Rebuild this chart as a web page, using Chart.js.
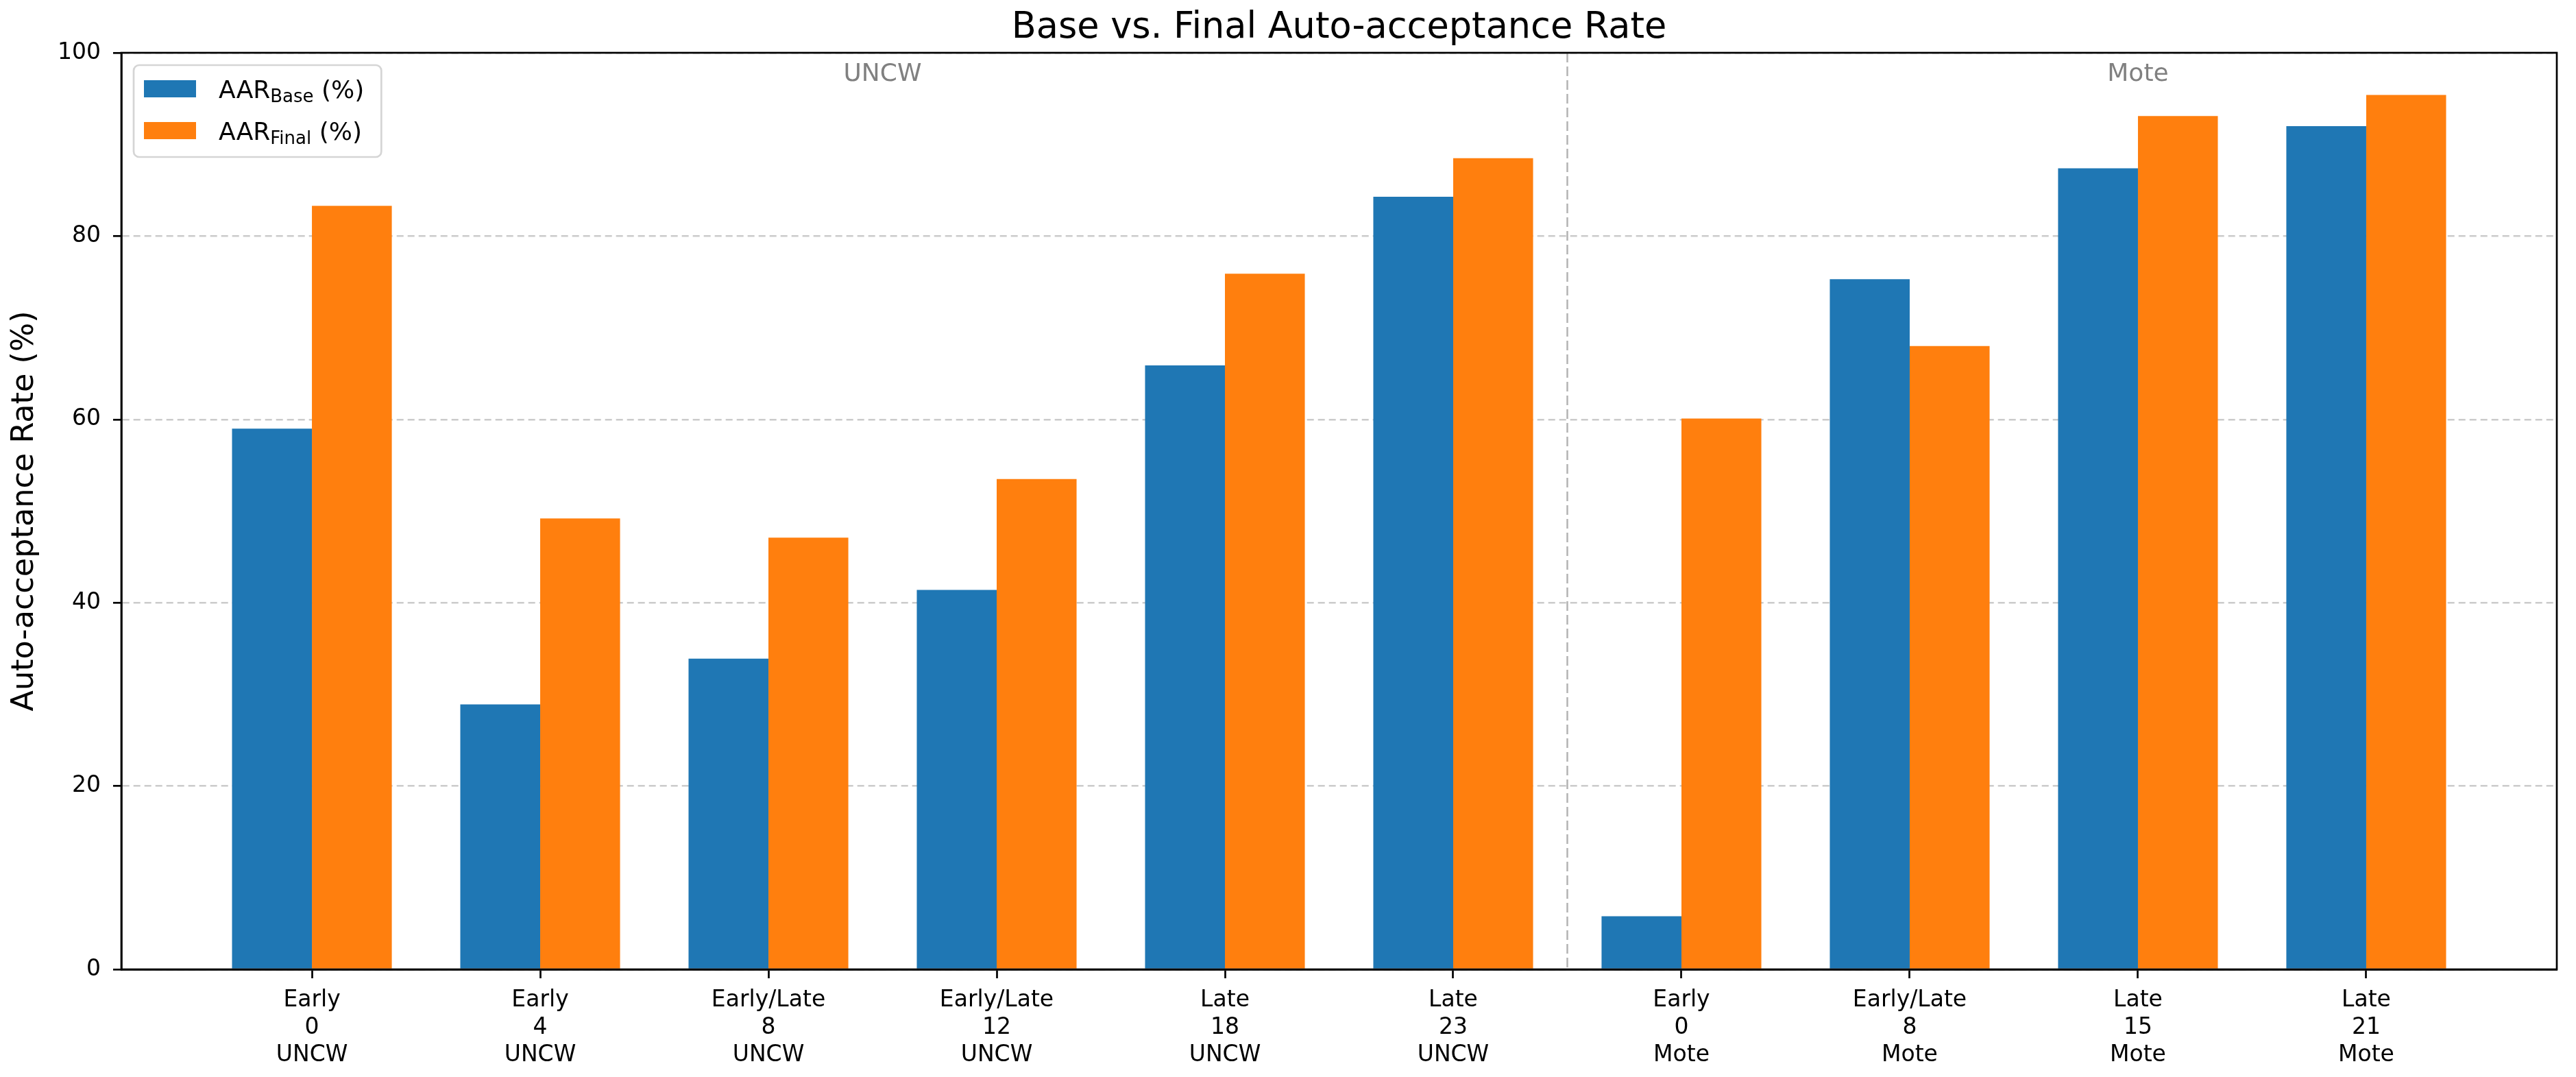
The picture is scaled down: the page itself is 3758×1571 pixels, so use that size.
<!DOCTYPE html>
<html>
<head>
<meta charset="utf-8">
<title>Base vs. Final Auto-acceptance Rate</title>
<script src="https://cdn.jsdelivr.net/npm/chart.js@4.4.1/dist/chart.umd.min.js"></script>
<style>
  html, body { margin: 0; padding: 0; background: #fff; }
  #wrap { width: 3758px; height: 1571px; }
</style>
</head>
<body>
<div id="wrap"><canvas id="aar-chart" width="3758" height="1571"></canvas></div>
<script>
// Data

const phases = ["Early", "Early", "Early/Late", "Early/Late", "Late", "Late", "Early", "Early/Late", "Late", "Late"];
const hours = ["0", "4", "8", "12", "18", "23", "0", "8", "15", "21"];
const sites = ["UNCW", "UNCW", "UNCW", "UNCW", "UNCW", "UNCW", "Mote", "Mote", "Mote", "Mote"];

const aarBase = [59.0, 28.9, 33.9, 41.4, 65.9, 84.3, 5.8, 75.3, 87.4, 92.0];
const aarFinal = [83.3, 49.2, 47.1, 53.5, 75.9, 88.5, 60.1, 68.0, 93.1, 95.4];

const yTicks = [0, 20, 40, 60, 80, 100];
const legendSubs = ["Base", "Final"];
const groupNames = ["UNCW", "Mote"];
const groupCenters = [2.5, 8]; // x value where the group name sits
const groupSplit = 5.5;

const FONT = "'DejaVu Sans'";
const BLUE = "#1f77b4";
const ORANGE = "#ff7f0e";

Chart.defaults.font.family = FONT;
Chart.defaults.color = "#000";

// title, frame, divider, group names and legend drawn over the plot
const overlay = {
  id: "overlay",
  afterDatasetsDraw(chart) {
    const { ctx, chartArea: a, scales } = chart;
    const xs = scales.x;
    ctx.save();
    // divider between the two sites
    const xd = xs.getPixelForValue(groupSplit);
    ctx.strokeStyle = "#b3b3b3";
    ctx.lineWidth = 2.5;
    ctx.setLineDash([14, 6]);
    ctx.beginPath();
    ctx.moveTo(xd, a.top);
    ctx.lineTo(xd, a.bottom);
    ctx.stroke();
    ctx.setLineDash([]);

    // site names
    ctx.fillStyle = "#808080";
    ctx.font = "36px " + FONT;
    ctx.textAlign = "center";
    ctx.textBaseline = "alphabetic";
    groupNames.forEach((name, i) => {
      ctx.fillText(name, xs.getPixelForValue(groupCenters[i]), a.top + 41);
    });
    ctx.restore();
  },
  afterDraw(chart) {
    const { ctx, chartArea: a } = chart;
    ctx.save();
    // frame on all four sides
    ctx.strokeStyle = "#000";
    ctx.lineWidth = 2.7;
    ctx.strokeRect(a.left, a.top, a.right - a.left, a.bottom - a.top);

    // title
    ctx.fillStyle = "#000";
    ctx.font = "52.5px " + FONT;
    ctx.textAlign = "center";
    ctx.textBaseline = "alphabetic";
    ctx.fillText("Base vs. Final Auto-acceptance Rate", (a.left + a.right) / 2, 55);

    // legend
    const big = "36px " + FONT;
    const small = "26px " + FONT;
    const colors = [BLUE, ORANGE];
    ctx.textAlign = "left";
    let textW = 0;
    legendSubs.forEach((sub) => {
      ctx.font = big;
      let w = ctx.measureText("AAR").width + ctx.measureText(" (%)").width;
      ctx.font = small;
      w += ctx.measureText(sub).width;
      textW = Math.max(textW, w);
    });
    const lx = a.left + 18;
    const ly = a.top + 18;
    const lw = 15 + 76 + 33 + textW + 25;
    const lh = 134;
    ctx.beginPath();
    ctx.roundRect(lx, ly, lw, lh, 8);
    ctx.fillStyle = "rgba(255,255,255,0.8)";
    ctx.fill();
    ctx.strokeStyle = "#d5d5d5";
    ctx.lineWidth = 2.7;
    ctx.stroke();

    legendSubs.forEach((sub, i) => {
      const rowTop = ly + 22 + i * 61;
      ctx.fillStyle = colors[i];
      ctx.fillRect(lx + 15, rowTop, 76, 25);
      const base = rowTop + 26;
      let tx = lx + 15 + 76 + 33;
      ctx.fillStyle = "#000";
      ctx.font = big;
      ctx.fillText("AAR", tx, base);
      tx += ctx.measureText("AAR").width;
      ctx.font = small;
      ctx.fillText(sub, tx, base + 6);
      tx += ctx.measureText(sub).width;
      ctx.font = big;
      ctx.fillText(" (%)", tx, base);
    });
    ctx.restore();
  },
};

const canvas = document.getElementById("aar-chart");

new Chart(canvas.getContext("2d"), {
  type: "bar",
  data: {
    datasets: [
      {
        label: "AAR Base (%)",
        data: aarBase.map((v, i) => ({ x: i, y: v })),
        backgroundColor: BLUE,
        borderWidth: 0,
      },
      {
        label: "AAR Final (%)",
        data: aarFinal.map((v, i) => ({ x: i, y: v })),
        backgroundColor: ORANGE,
        borderWidth: 0,
      },
    ],
  },
  options: {
    responsive: false,
    devicePixelRatio: 1,
    animation: false,
    events: [],
    categoryPercentage: 0.7,
    barPercentage: 1.0,
    layout: { padding: { top: 77, right: 28, left: 0, bottom: 0 } },
    plugins: {
      legend: { display: false },
      title: { display: false },
      tooltip: { enabled: false },
    },
    scales: {
      x: {
        type: "linear",
        offset: false,
        min: -0.835,
        max: phases.length - 1 + 0.835,
        afterBuildTicks: (scale) => {
          scale.ticks = phases.map((_, i) => ({ value: i }));
        },
        afterFit: (scale) => {
          scale.height = 157;
        },
        ticks: {
          autoSkip: false,
          maxRotation: 0,
          padding: 13,
          color: "#000",
          font: { size: 33, lineHeight: 1.2 },
          callback: (v) => [phases[v], hours[v], sites[v]],
        },
        grid: {
          offset: false,
          drawOnChartArea: false,
          drawTicks: true,
          tickLength: 13,
          tickWidth: 2.7,
          tickColor: "#000",
        },
        border: { color: "#000", width: 2.7 },
      },
      y: {
        min: 0,
        max: 100,
        afterBuildTicks: (scale) => {
          scale.ticks = yTicks.map((v) => ({ value: v }));
        },
        afterFit: (scale) => {
          scale.width = 177;
        },
        ticks: {
          padding: 18,
          color: "#000",
          font: { size: 33 },
        },
        grid: {
          color: "#cbcbcb",
          lineWidth: 2.6,
          tickLength: 12,
          tickWidth: 2.7,
          tickColor: "#000",
          tickBorderDash: [],
        },
        border: { color: "#000", width: 2.7, dash: [10, 6] },
        title: {
          display: true,
          text: "Auto-acceptance Rate (%)",
          color: "#000",
          font: { size: 44.5, lineHeight: 1.2 },
          padding: { top: 10, bottom: 0 },
        },
      },
    },
  },
  plugins: [overlay],
});
</script>
</body>
</html>
